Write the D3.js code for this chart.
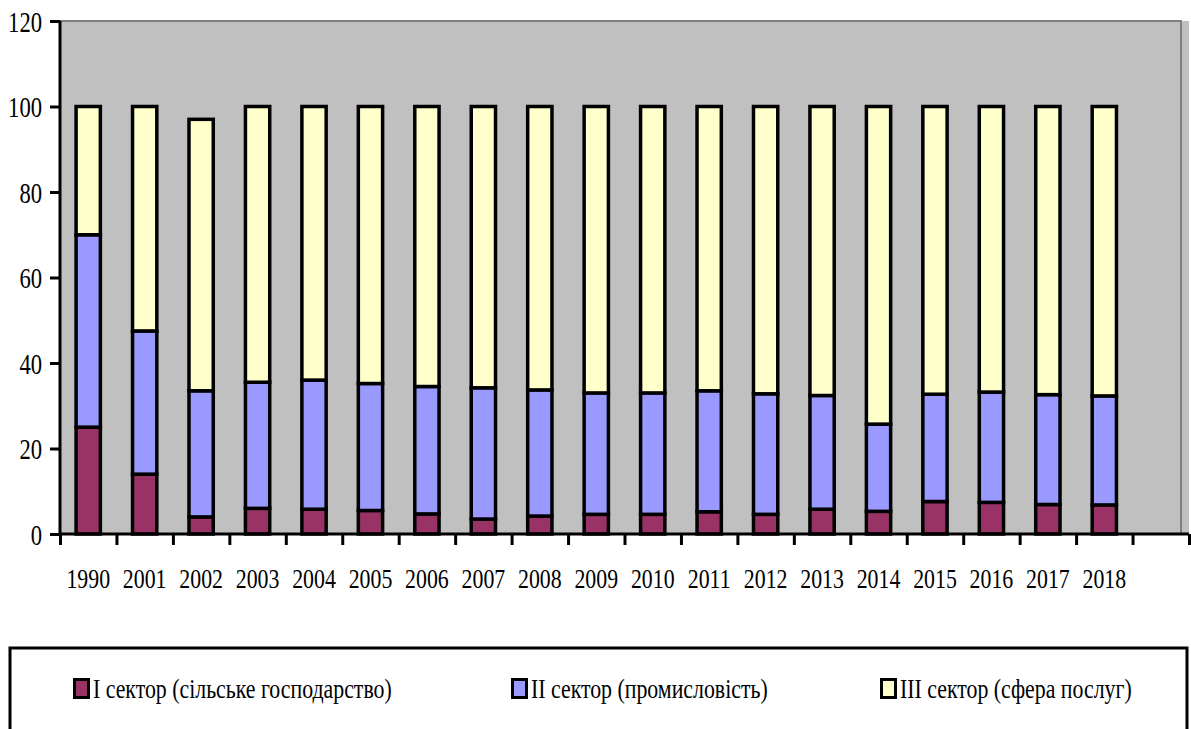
<!DOCTYPE html>
<html>
<head>
<meta charset="utf-8">
<script src="https://cdn.jsdelivr.net/npm/d3@7/dist/d3.min.js"></script>
<style>
  html, body { margin: 0; padding: 0; background: #fff; }
  svg { display: block; }
  svg text { font-family: "Liberation Serif", "Times New Roman", "DejaVu Serif", serif !important; fill: #000; }
</style>
</head>
<body>
<svg id="chart" width="1191" height="729"></svg>
<script>
const years = ["1990","2001","2002","2003","2004","2005","2006","2007","2008","2009","2010","2011","2012","2013","2014","2015","2016","2017","2018"];
const sector1 = [25, 14, 4, 6, 5.8, 5.5, 4.7, 3.5, 4.2, 4.6, 4.6, 5.2, 4.6, 5.8, 5.3, 7.6, 7.4, 6.9, 6.8];
const sector2 = [45, 33.5, 29.5, 29.5, 30.2, 29.7, 29.8, 30.7, 29.5, 28.4, 28.4, 28.3, 28.2, 26.6, 20.4, 25.1, 25.8, 25.7, 25.5];
const sector3 = [30, 52.5, 63.5, 64.5, 64, 64.8, 65.5, 65.8, 66.3, 67, 67, 66.5, 67.2, 67.6, 74.3, 67.3, 66.8, 67.4, 67.7];
const yTicks = [0, 20, 40, 60, 80, 100, 120];
const seriesNames = ["I сектор (сільське господарство)", "II сектор (промисловість)", "III сектор (сфера послуг)"];
const seriesColors = ["#993366", "#9999FF", "#FFFFCC"];
const keys = ["s1", "s2", "s3"];

const FONT = "'Liberation Serif', 'Times New Roman', 'DejaVu Serif', serif";
const svg = d3.select("#chart");
const W = 1191, H = 729;
const pL = 60, pR = 1189, pT = 21, pB = 534;
const SX = 0.78;

svg.append("rect").attr("width", W).attr("height", H).attr("fill", "#fff");

// categories: years plus one empty slot
const slots = years.concat([""]);
const x = d3.scaleBand().domain(d3.range(slots.length)).range([pL, pR])
  .paddingInner(0.57).paddingOuter(0.285);
const xb = d3.scaleLinear().domain([0, slots.length]).range([pL, pR]);
const y = d3.scaleLinear().domain([0, 120]).range([pB, pT]);

// plot area
svg.append("rect").attr("x", pL).attr("y", pT).attr("width", pR - pL).attr("height", pB - pT)
  .attr("fill", "#C0C0C0");
svg.append("path").attr("d", `M${pL},${pT}H${pR - 8}V${pB}`)
  .attr("fill", "none").attr("stroke", "#808080").attr("stroke-width", 2);

// data rows
const rows = years.map((yr, i) => ({ i, year: yr, s1: sector1[i], s2: sector2[i], s3: sector3[i] }));
const stacked = d3.stack().keys(keys)(rows);

const g = svg.append("g");
stacked.forEach((layer, li) => {
  g.selectAll(null).data(layer).enter().append("rect")
    .attr("x", d => x(d.data.i))
    .attr("width", x.bandwidth())
    .attr("y", d => y(d[1]))
    .attr("height", d => y(d[0]) - y(d[1]))
    .attr("fill", seriesColors[li])
    .attr("stroke", "#000")
    .attr("stroke-width", 3.5);
});

// y axis
const yAxis = d3.axisLeft(y).tickValues(yTicks).tickSize(10).tickPadding(6).tickFormat(d3.format("d"));
const ya = svg.append("g").attr("transform", `translate(${pL},0)`).call(yAxis);
ya.attr("font-family", FONT);
ya.select(".domain").attr("stroke", "#000").attr("stroke-width", 3).attr("d", `M0,${pT}V${pB + 1}`);
ya.selectAll(".tick line").attr("stroke", "#000").attr("stroke-width", 3);
ya.selectAll(".tick text")
  .attr("x", null).attr("dy", null)
  .attr("font-size", 29).attr("text-anchor", "end").attr("dominant-baseline", "central")
  .style("font-family", FONT)
  .attr("fill", "#000")
  .attr("transform", `translate(-18,1) scale(${SX},1)`);

// x axis
const xAxis = d3.axisBottom(xb).tickValues(d3.range(slots.length + 1)).tickSize(11).tickFormat("");
const xa = svg.append("g").attr("transform", `translate(0,${pB})`).call(xAxis);
xa.select(".domain").attr("stroke", "#000").attr("stroke-width", 3).attr("d", `M${pL},0H${pR}`);
xa.selectAll(".tick line").attr("stroke", "#000").attr("stroke-width", 3);

svg.append("g").selectAll("text").data(years).enter().append("text")
  .attr("transform", (d, i) => `translate(${x(i) + x.bandwidth() / 2},588) scale(${SX},1)`)
  .attr("text-anchor", "middle")
  .attr("font-size", 28)
  .style("font-family", FONT)
  .text(d => d);

// legend
svg.append("rect").attr("x", 10).attr("y", 648).attr("width", 1177).attr("height", 110)
  .attr("fill", "#fff").attr("stroke", "#000").attr("stroke-width", 3);
const legendX = [73, 511, 880];
const lg = svg.append("g").selectAll("g").data(seriesNames).enter().append("g")
  .attr("transform", (d, i) => `translate(${legendX[i]},0)`);
lg.append("rect").attr("x", 1.5).attr("y", 679.5).attr("width", 14).attr("height", 18)
  .attr("fill", (d, i) => seriesColors[i]).attr("stroke", "#000").attr("stroke-width", 3);
lg.append("text")
  .attr("transform", `translate(20,698) scale(${SX},1)`)
  .attr("font-size", 28)
  .style("font-family", FONT)
  .text(d => d);
</script>
</body>
</html>
